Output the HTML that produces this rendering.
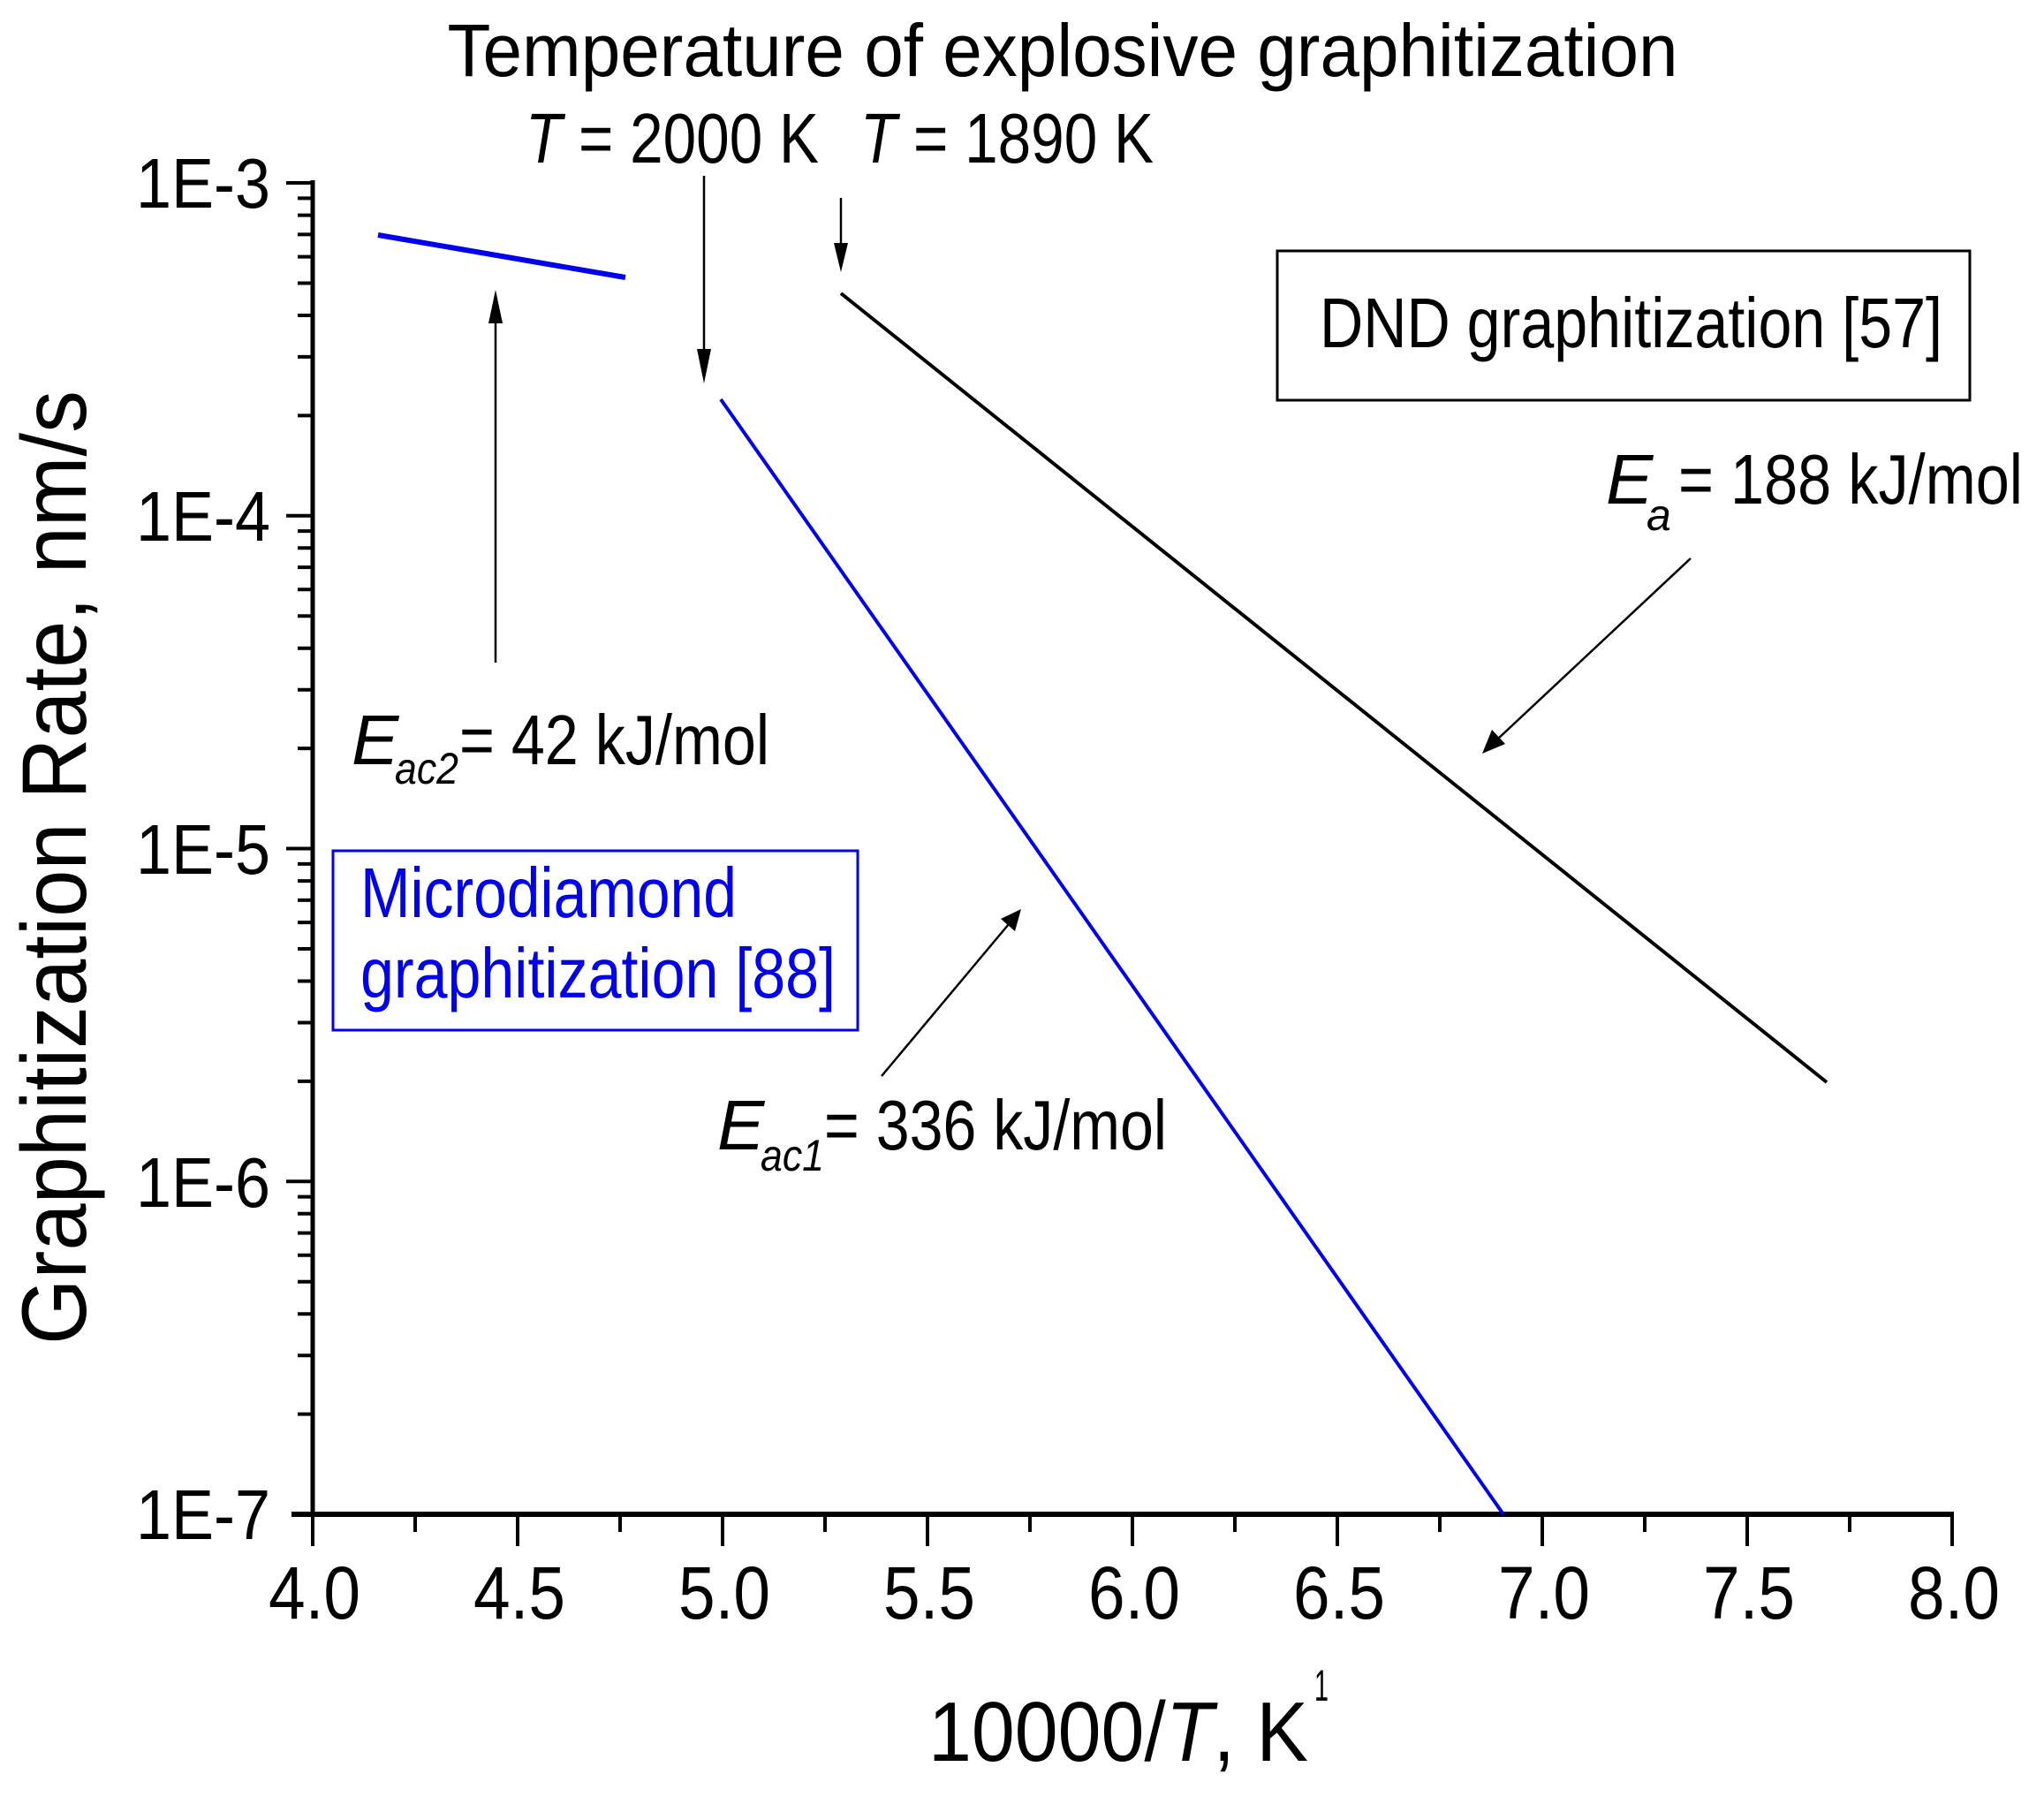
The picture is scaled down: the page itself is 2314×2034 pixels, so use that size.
<!DOCTYPE html>
<html><head><meta charset="utf-8"><style>
html,body{margin:0;padding:0;background:#fff;}
svg{display:block;}
text{font-family:"Liberation Sans",Arial,sans-serif;}
</style></head><body>
<svg width="2314" height="2034" viewBox="0 0 2314 2034" xmlns="http://www.w3.org/2000/svg">
<!-- axes -->
<line x1="354" y1="204" x2="354" y2="1717" stroke="#000" stroke-width="5"/>
<line x1="330" y1="1714" x2="2212" y2="1714" stroke="#000" stroke-width="6"/>
<path d="M324 207H354M324 583.75H354M324 960.5H354M324 1337.25H354" stroke="#000" stroke-width="4"/>
<path stroke="#000" stroke-width="4" d="
M337 1600.6H354M337 1534.2H354M337 1487.2H354M337 1450.7H354M337 1420.8H354M337 1395.6H354M337 1373.8H354M337 1354.6H354
M337 1223.9H354M337 1157.5H354M337 1110.5H354M337 1074H354M337 1044.1H354M337 1018.9H354M337 997.1H354M337 977.9H354
M337 847.1H354M337 780.7H354M337 733.7H354M337 697.2H354M337 667.3H354M337 642.1H354M337 620.3H354M337 601.1H354
M337 470.4H354M337 403.9H354M337 357H354M337 320.5H354M337 290.6H354M337 265.4H354M337 243.6H354M337 224.4H354"/>
<path stroke="#000" stroke-width="4" d="
M354 1714V1750M586 1714V1750M818 1714V1750M1050 1714V1750M1282 1714V1750M1514 1714V1750M1746 1714V1750M1978 1714V1750M2210 1714V1750
M470 1714V1734M702 1714V1734M934 1714V1734M1166 1714V1734M1398 1714V1734M1630 1714V1734M1862 1714V1734M2094 1714V1734"/>
<g font-size="80" text-anchor="end">
<text x="306" y="235" textLength="152" lengthAdjust="spacingAndGlyphs">1E-3</text>
<text x="306" y="612" textLength="152" lengthAdjust="spacingAndGlyphs">1E-4</text>
<text x="306" y="989" textLength="152" lengthAdjust="spacingAndGlyphs">1E-5</text>
<text x="306" y="1366" textLength="152" lengthAdjust="spacingAndGlyphs">1E-6</text>
<text x="306" y="1742" textLength="152" lengthAdjust="spacingAndGlyphs">1E-7</text>
</g>
<g font-size="84" text-anchor="middle">
<text x="356" y="1832" textLength="104" lengthAdjust="spacingAndGlyphs">4.0</text><text x="588" y="1832" textLength="104" lengthAdjust="spacingAndGlyphs">4.5</text><text x="820" y="1832" textLength="104" lengthAdjust="spacingAndGlyphs">5.0</text>
<text x="1052" y="1832" textLength="104" lengthAdjust="spacingAndGlyphs">5.5</text><text x="1284" y="1832" textLength="104" lengthAdjust="spacingAndGlyphs">6.0</text><text x="1516" y="1832" textLength="104" lengthAdjust="spacingAndGlyphs">6.5</text>
<text x="1748" y="1832" textLength="104" lengthAdjust="spacingAndGlyphs">7.0</text><text x="1980" y="1832" textLength="104" lengthAdjust="spacingAndGlyphs">7.5</text><text x="2212" y="1832" textLength="104" lengthAdjust="spacingAndGlyphs">8.0</text>
</g>
<text x="1051" y="1993" font-size="96" textLength="430" lengthAdjust="spacingAndGlyphs">10000/<tspan font-style="italic">T</tspan>, K</text>
<text x="1488" y="1925" font-size="50" textLength="16" lengthAdjust="spacingAndGlyphs">1</text>
<text transform="translate(97,982) rotate(-90)" font-size="104" text-anchor="middle" textLength="1080" lengthAdjust="spacingAndGlyphs">Graphitization Rate, nm/s</text>
<text x="1203" y="86" font-size="84" text-anchor="middle" textLength="1393" lengthAdjust="spacingAndGlyphs">Temperature of explosive graphitization</text>
<text x="595" y="184" font-size="80" textLength="332" lengthAdjust="spacingAndGlyphs"><tspan font-style="italic">T</tspan> = 2000 K</text>
<text x="974" y="184" font-size="80" textLength="332" lengthAdjust="spacingAndGlyphs"><tspan font-style="italic">T</tspan> = 1890 K</text>
<line x1="428" y1="266" x2="708" y2="314" stroke="#0000ee" stroke-width="6"/>
<line x1="816" y1="452" x2="1702" y2="1714" stroke="#0000ee" stroke-width="4"/>
<line x1="952" y1="332" x2="2068" y2="1225" stroke="#000" stroke-width="4"/>
<g stroke="#000" stroke-width="2.5" fill="#000">
<line x1="797" y1="199" x2="797" y2="400"/>
<polygon points="789,395 805,395 797,434" stroke="none"/>
<line x1="952" y1="224" x2="952" y2="280"/>
<polygon points="944,275 960,275 952,308" stroke="none"/>
<line x1="561" y1="750" x2="561" y2="360"/>
<polygon points="553,366 569,366 561,328" stroke="none"/>
<line x1="1914" y1="632" x2="1695" y2="837"/>
<polygon points="1678,853 1689,826 1704,842" stroke="none"/>
<line x1="998" y1="1218" x2="1142" y2="1046"/>
<polygon points="1156,1029 1133,1040 1149,1054" stroke="none"/>
</g>
<rect x="1446" y="284" width="784" height="169" fill="none" stroke="#000" stroke-width="3"/>
<text x="1494" y="393" font-size="80" textLength="705" lengthAdjust="spacingAndGlyphs">DND graphitization [57]</text>
<text x="1818" y="570" font-size="80" font-style="italic">E</text>
<text x="1864" y="600" font-size="50" font-style="italic">a</text>
<text x="1900" y="570" font-size="80" textLength="390" lengthAdjust="spacingAndGlyphs">= 188 kJ/mol</text>
<text x="398" y="865" font-size="80" font-style="italic">E</text>
<text x="447" y="887" font-size="50" font-style="italic" textLength="72" lengthAdjust="spacingAndGlyphs">ac2</text>
<text x="520" y="865" font-size="80" textLength="351" lengthAdjust="spacingAndGlyphs">= 42 kJ/mol</text>
<text x="812" y="1301" font-size="80" font-style="italic">E</text>
<text x="861" y="1325" font-size="50" font-style="italic" textLength="72" lengthAdjust="spacingAndGlyphs">ac1</text>
<text x="933" y="1301" font-size="80" textLength="388" lengthAdjust="spacingAndGlyphs">= 336 kJ/mol</text>
<rect x="377" y="963" width="594" height="203" fill="none" stroke="#0000ee" stroke-width="3"/>
<text x="408" y="1038" font-size="80" fill="#0000ee" textLength="426" lengthAdjust="spacingAndGlyphs">Microdiamond</text>
<text x="408" y="1129" font-size="80" fill="#0000ee" textLength="538" lengthAdjust="spacingAndGlyphs">graphitization [88]</text>
</svg>
</body></html>
